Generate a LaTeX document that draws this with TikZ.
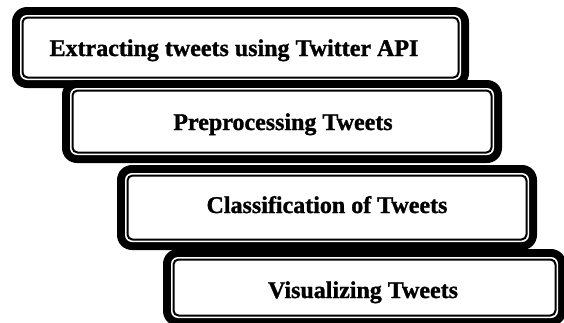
\documentclass[tikz,border=0pt]{standalone}
\usepackage{fontspec}
\setmainfont[BoldFeatures={FakeBold=1.2}]{Liberation Serif}
\newcommand\stackbox[4]{%
  \fill[black, rounded corners=15] (#1,#2) rectangle (#3,#4);
  \fill[white, rounded corners=7] (#1+8,#2+8) rectangle (#3-8,#4-8);
  \draw[line width=2, rounded corners=5] (#1+10.5,#2+10.5) rectangle (#3-10.5,#4-10.5);
}
\tikzset{lbl/.style={anchor=base, inner sep=0pt, font=\fontsize{24}{28}\selectfont\bfseries}}
\begin{document}
\begin{tikzpicture}[x=1pt,y=-1pt]
\useasboundingbox (0,0) rectangle (564,322);
\stackbox{12}{7}{469}{88}
\stackbox{62}{80}{502}{163}
\stackbox{117}{165}{537}{250}
\stackbox{163}{249}{566}{326}
\node[lbl] (t1) at (234,56) {Extracting tweets using Twitter API};
\node[lbl] (t2) at (283,130) {Preprocessing Tweets};
\node[lbl] (t3) at (327,213) {Classification of Tweets};
\node[lbl] (t4) at (363,298) {Visualizing Tweets};
\end{tikzpicture}
\end{document}
